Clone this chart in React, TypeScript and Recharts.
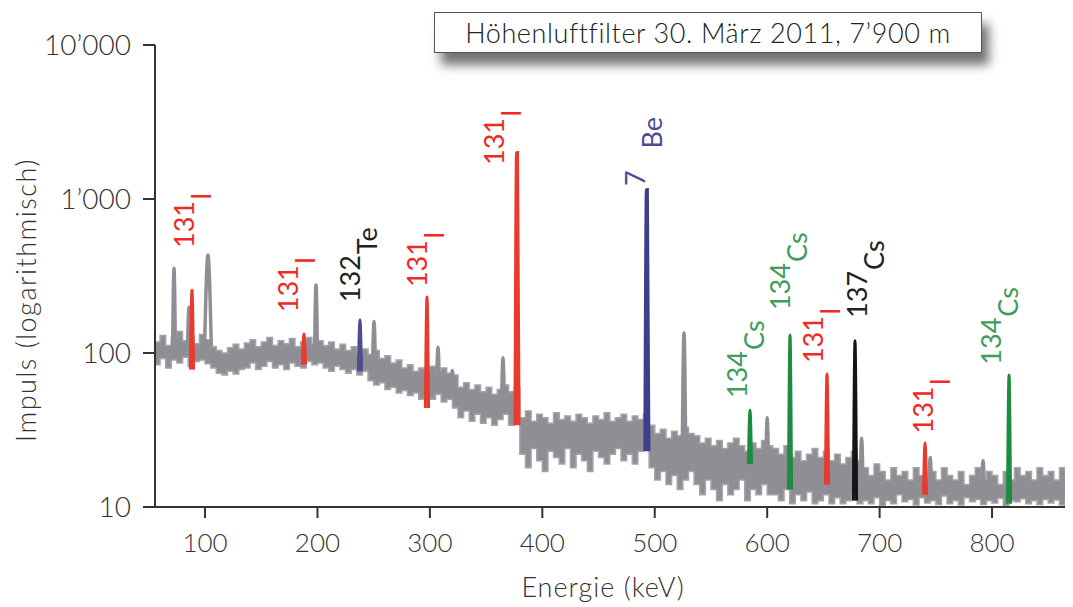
import React from "react";
import { ComposedChart, Area, Line, Scatter, XAxis, YAxis, Label } from "recharts";

const FONT = "Lato, 'Open Sans', sans-serif";

// Kanalraster des Untergrunds (keV)
const startEnergy = 55;
const energyStep = 5;

// Untergrund: obere und untere Kante des grauen Bandes (Impulse)
const bandHigh = [
  118, 130, 112, 125, 138, 120, 128, 115, 132, 122,
  110, 104, 100, 108, 114, 106, 116, 122, 110, 118, 126, 112, 120, 115, 124, 110, 118, 126, 114, 120,
  112, 118, 106, 114, 104, 110, 100, 106,
  98, 104, 92, 96, 86, 90, 80, 84, 76, 80,
  78, 82, 76, 80, 74, 72,
  60, 64, 58, 62, 56, 60, 54, 58, 62, 56, 60,
  38, 42, 36, 40, 38, 35, 41, 37, 39, 36, 40, 38, 35, 39, 37, 41, 36, 38, 40, 36, 39, 37, 40,
  34, 30, 32, 28, 31, 29, 33, 30,
  29, 26, 28, 25, 27, 24, 26, 28, 25, 23, 26, 24, 27, 25,
  24, 22, 25, 21, 23, 20, 22, 24, 21, 23, 20, 22, 19, 21, 23, 20,
  18, 16, 19, 17, 15, 18, 16, 17, 15, 18, 16, 14, 17, 15, 18, 16, 15, 17, 14, 16,
  18, 15, 17, 16, 14, 17, 15, 18, 16, 17, 15, 18, 16, 17, 15, 18, 16, 17,
];
const bandLow = [
  84, 92, 80, 90, 86, 94, 82, 88, 90, 85,
  80, 74, 72, 76, 73, 78, 80, 86, 78, 82, 88, 80, 84, 78, 86, 82, 80, 88, 84, 86,
  80, 76, 82, 78, 74, 78, 72, 76,
  66, 62, 64, 58, 60, 55, 57, 53, 55, 50,
  52, 50, 54, 48, 50, 44,
  38, 42, 36, 40, 35, 38, 34, 37, 40, 34, 36,
  22, 18, 24, 20, 17, 23, 21, 19, 24, 18, 22, 20, 17, 23, 21, 19, 22, 24, 20, 22, 19, 23, 24,
  18, 15, 17, 14, 16, 13, 15, 17,
  14, 12, 15, 13, 11, 14, 12, 13, 15, 11, 13, 12, 14, 12,
  12, 11, 13, 10.5, 12, 11, 12.5, 10.5, 11, 12, 10.5, 11.5, 10.5, 11, 12, 10.5,
  11, 10.5, 11.5, 10.2, 11, 10.5, 12, 10.8, 11.2, 10.3, 11.5, 10.6, 11, 10.4, 11.8, 10.5, 11, 10.3, 11.5, 10.8,
  11.2, 10.4, 11, 10.6, 11.4, 10.2, 11, 10.8, 11.3, 10.5, 11, 10.4, 11.2, 10.6, 11.1, 10.3, 11, 10.7,
];

// nicht zugeordnete Linien (grau)
const grayPeakEnergy = [72.4, 85.7, 102.6, 198.7, 250.3, 307.2, 320, 365, 526, 600, 684, 745, 792];
const grayPeakTop = [355, 198, 433, 276, 160, 109, 77, 93, 135, 38, 28, 21, 20];
const grayPeakBase = [110, 110, 110, 105, 88, 62, 55, 48, 24, 18, 14, 13, 13];
const grayPeakHalfWidth = [1.2, 1.2, 3, 1.2, 1.2, 1.2, 1.2, 1.2, 1.5, 1.2, 1.2, 1.2, 1.2];

// zugeordnete Linien
const peakEnergy = [88.4, 188, 237.8, 297.4, 377.5, 493, 584.7, 620.3, 653.2, 678.1, 740.4, 815.1];
const peakTop = [256, 133, 164, 231, 1990, 1143, 42.7, 131, 73, 120, 26, 72];
const peakBase = [78, 84, 76, 44, 34, 23, 19, 13, 14, 11, 12, 10.5];
const peakNuclide = ["131I", "131I", "132Te", "131I", "131I", "7Be", "134Cs", "134Cs", "131I", "137Cs", "131I", "134Cs"];

// Beschriftungen (Energie / Impulse am Textanfang)
const labelEnergy = [90.2, 182.7, 237.8, 297.4, 366, 491.3, 582, 620.3, 649.6, 688.8, 747.5, 808];
const labelCounts = [481, 184, 214, 268, 1663, 1213, 51, 190, 86, 169, 30, 84];
const labelNuclide = ["131I", "131I", "132Te", "131I", "131I", "7Be", "134Cs", "134Cs", "131I", "137Cs", "131I", "134Cs"];

const xTicks = [100, 200, 300, 400, 500, 600, 700, 800];
const yTicks = [10, 100, 1000, 10000];
const yTickText: Record<number, string> = { 10: "10", 100: "100", 1000: "1’000", 10000: "10’000" };

const peakColor: Record<string, string> = {
  "131I": "#ea3a2e",
  "132Te": "#4d4d90",
  "7Be": "#3e3e8a",
  "134Cs": "#1f8b40",
  "137Cs": "#141414",
};
const textColor: Record<string, string> = {
  "131I": "#ee2a24",
  "132Te": "#222",
  "7Be": "#4b4b96",
  "134Cs": "#3f9c5a",
  "137Cs": "#222",
};
// Abstand zwischen Massenzahl und Elementsymbol
const symbolGap: Record<string, number> = { I: 1, Te: 1, Be: 22, Cs: 1 };

const GRAY = "#8e8e94";

const bandData = bandHigh.map((hi, i) => ({ e: startEnergy + i * energyStep, lo: bandLow[i], hi }));

const spike = (e: number, top: number, base: number, w: number) => [
  { e: e - w, v: base },
  { e, v: top },
  { e: e + w, v: base },
];

const labelData = labelEnergy.map((e, i) => ({ e, v: labelCounts[i], nuclide: labelNuclide[i] }));

const NuclideLabel = (props: any) => {
  const { cx, cy, payload } = props;
  if (cx == null || cy == null) return null;
  const m = /^(\d+)(\D+)$/.exec(payload.nuclide);
  const mass = m ? m[1] : payload.nuclide;
  const el = m ? m[2] : "";
  return (
    <text
      x={cx}
      y={cy}
      transform={`rotate(-90 ${cx} ${cy})`}
      fontFamily={FONT}
      fontSize={27}
      fill={textColor[payload.nuclide]}
    >
      <tspan>{mass}</tspan>
      <tspan dx={symbolGap[el] ?? 1} dy={17}>
        {el}
      </tspan>
    </text>
  );
};

export default function App() {
  return (
    <div style={{ position: "relative", width: 1065, height: 599 }}>
      <ComposedChart
        width={1065}
        height={599}
        data={bandData}
        margin={{ top: 37, right: 0, left: 0, bottom: 0 }}
      >
        <XAxis
          type="number"
          dataKey="e"
          domain={[55.5, 872]}
          allowDataOverflow
          ticks={xTicks}
          height={100}
          tickSize={11}
          tickMargin={16}
          axisLine={{ stroke: "#333", strokeWidth: 2 }}
          tickLine={{ stroke: "#333", strokeWidth: 2 }}
          tick={{ fill: "#333", fontSize: 26, fontFamily: FONT, fontWeight: 300 }}
        >
          <Label
            content={(p: any) => {
              const vb = p.viewBox;
              return (
                <text
                  x={vb.x + vb.width / 2 - 11}
                  y={vb.y + 90}
                  textAnchor="middle"
                  fontFamily={FONT}
                  fontWeight={300}
                  fontSize={27}
                  letterSpacing={1}
                  fill="#333"
                >
                  Energie (keV)
                </text>
              );
            }}
          />
        </XAxis>
        <YAxis
          dataKey="v"
          scale="log"
          domain={[10, 10000]}
          allowDataOverflow
          ticks={yTicks}
          width={147}
          tickSize={12}
          tickMargin={12}
          tickFormatter={(v: number) => yTickText[v] ?? String(v)}
          axisLine={{ stroke: "#333", strokeWidth: 2 }}
          tickLine={{ stroke: "#333", strokeWidth: 2 }}
          tick={{ fill: "#333", fontSize: 28, fontFamily: FONT, fontWeight: 300 }}
        >
          <Label
            content={() => (
              <text
                x={28}
                y={292}
                transform="rotate(-90 28 292)"
                textAnchor="middle"
                fontFamily={FONT}
                fontWeight={300}
                fontSize={27}
                letterSpacing={1.5}
                fill="#333"
              >
                Impuls (logarithmisch)
              </text>
            )}
          />
        </YAxis>

        <Area
          dataKey={(d: any) => [d.lo, d.hi]}
          type="stepAfter"
          fill={GRAY}
          fillOpacity={1}
          stroke="#a4a4a9"
          strokeWidth={1.5}
          isAnimationActive={false}
        />

        {grayPeakEnergy.map((e, i) => (
          <Line
            key={"g" + i}
            data={spike(e, grayPeakTop[i], grayPeakBase[i], grayPeakHalfWidth[i])}
            dataKey="v"
            type="monotone"
            stroke={GRAY}
            strokeWidth={3.5}
            dot={false}
            isAnimationActive={false}
          />
        ))}

        {peakEnergy.map((e, i) => (
          <Line
            key={"p" + i}
            data={spike(e, peakTop[i], peakBase[i], 1.4)}
            dataKey="v"
            type="monotone"
            stroke={peakColor[peakNuclide[i]]}
            strokeWidth={peakTop[i] > 1000 ? 4 : 3}
            dot={false}
            isAnimationActive={false}
          />
        ))}

        <Scatter data={labelData} dataKey="v" shape={NuclideLabel} isAnimationActive={false} />
      </ComposedChart>

      <div
        style={{
          position: "absolute",
          left: 426,
          top: 4,
          width: 546,
          height: 39,
          border: "1.5px solid #555",
          background: "#fff",
          boxShadow: "7px 12px 10px rgba(0,0,0,0.55)",
          fontFamily: FONT,
          fontWeight: 300,
          fontSize: 27,
          letterSpacing: 0.6,
          color: "#222",
          display: "flex",
          alignItems: "center",
          justifyContent: "center",
        }}
      >
        Höhenluftfilter 30. März 2011, 7’900 m
      </div>
    </div>
  );
}
